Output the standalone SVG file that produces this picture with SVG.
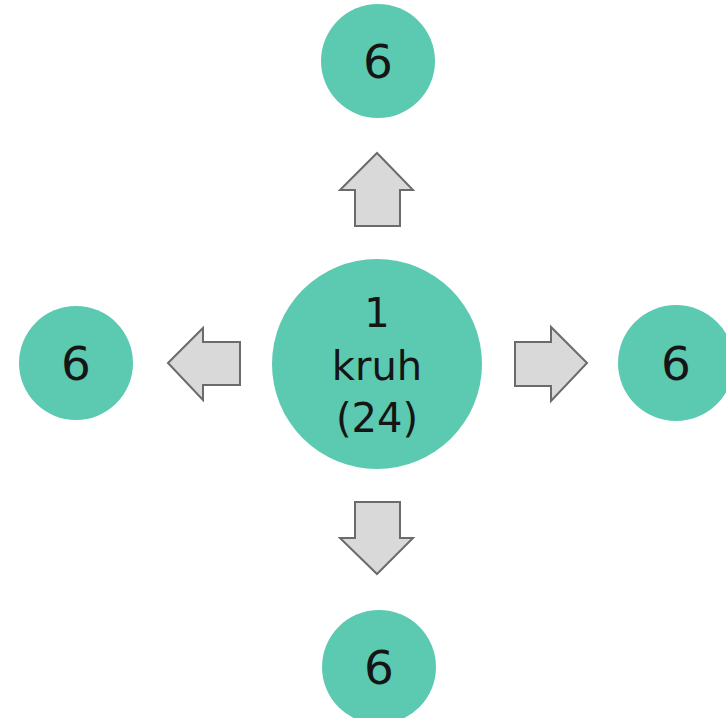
<svg xmlns="http://www.w3.org/2000/svg" width="726" height="718" viewBox="0 0 726 718">
<style>
.c{fill:#5cc9b1}
.t{font-family:"DejaVu Sans",Verdana,sans-serif;fill:#151515;text-anchor:middle}
.o{font-size:47px}
.m{font-size:40px}
.a{fill:#d9d9d9;stroke:#6b6b6b;stroke-width:2;stroke-linejoin:miter}
</style>
<rect width="726" height="718" fill="#ffffff"/>
<g id="center"><circle class="c" cx="377" cy="364" r="105"/>
<text class="t m" x="377" y="327">1</text>
<text class="t m" x="377" y="380">kruh</text>
<text class="t m" x="377" y="432">(24)</text></g>
<g id="top"><circle class="c" cx="378" cy="61" r="57"/><text class="t o" x="378" y="78">6</text></g>
<g id="bottom"><circle class="c" cx="379" cy="667" r="57"/><text class="t o" x="379" y="684">6</text></g>
<g id="left"><circle class="c" cx="76" cy="363" r="57"/><text class="t o" x="76" y="380">6</text></g>
<g id="right"><circle class="c" cx="676" cy="363" r="58"/><text class="t o" x="676" y="380">6</text></g>
<g id="connectors">
<polygon class="a" points="377,153 413,190 400,190 400,226 355,226 355,190 340,190"/>
<polygon class="a" points="377,574 413,538 400,538 400,502 355,502 355,538 340,538"/>
<polygon class="a" points="168,363 203,328 203,342 240,342 240,385 203,385 203,400"/>
<polygon class="a" points="587,363 551,327 551,342 515,342 515,386 551,386 551,401"/>
</g>
</svg>
